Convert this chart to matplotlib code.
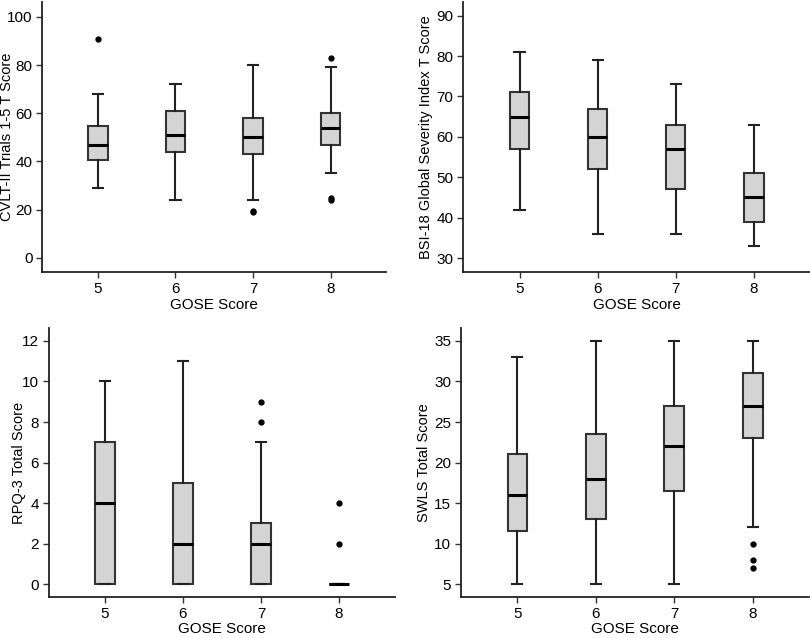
"""Four box plots of outcome scores by GOSE score."""
import matplotlib
matplotlib.use("Agg")
import matplotlib.pyplot as plt

plt.rcParams["font.family"] = ["Liberation Sans", "DejaVu Sans"]

gose = [5, 6, 7, 8]

# CVLT-II Trials 1-5 T Score
cvlt_lo = [29, 24, 24, 35]
cvlt_q1 = [40.5, 44, 43, 47]
cvlt_med = [47, 51, 50, 54]
cvlt_q3 = [54.5, 61, 58, 60]
cvlt_hi = [68, 72, 80, 79]
cvlt_out = [[91], [], [19, 19.4], [83, 24, 25]]

# BSI-18 Global Severity Index T Score
bsi_lo = [42, 36, 36, 33]
bsi_q1 = [57, 52, 47, 39]
bsi_med = [65, 60, 57, 45]
bsi_q3 = [71, 67, 63, 51]
bsi_hi = [81, 79, 73, 63]
bsi_out = [[], [], [], []]

# RPQ-3 Total Score
rpq_lo = [0, 0, 0, 0]
rpq_q1 = [0, 0, 0, 0]
rpq_med = [4, 2, 2, 0]
rpq_q3 = [7, 5, 3, 0]
rpq_hi = [10, 11, 7, 0]
rpq_out = [[], [], [8, 9], [2, 4]]

# SWLS Total Score
swls_lo = [5, 5, 5, 12]
swls_q1 = [11.5, 13, 16.5, 23]
swls_med = [16, 18, 22, 27]
swls_q3 = [21, 23.5, 27, 31]
swls_hi = [33, 35, 35, 35]
swls_out = [[], [], [], [10, 8, 7]]


def stats(lo, q1, med, q3, hi, out):
    return [dict(whislo=a, q1=b, med=c, q3=d, whishi=e, fliers=f)
            for a, b, c, d, e, f in zip(lo, q1, med, q3, hi, out)]


panels = [
    # (rect, stats, ylabel, ylim, yticks, xlabel pad, ylabel right edge in fig fraction)
    ([0.052, 0.574, 0.425, 0.423],
     stats(cvlt_lo, cvlt_q1, cvlt_med, cvlt_q3, cvlt_hi, cvlt_out),
     "CVLT-II Trials 1-5 T Score", (-5.8, 106.2), range(0, 101, 20), 2, 0.017),
    ([0.572, 0.574, 0.428, 0.423],
     stats(bsi_lo, bsi_q1, bsi_med, bsi_q3, bsi_hi, bsi_out),
     "BSI-18 Global Severity Index T Score", (26.6, 93.4), range(30, 91, 10), 2, 0.534),
    ([0.060, 0.064, 0.428, 0.422],
     stats(rpq_lo, rpq_q1, rpq_med, rpq_q3, rpq_hi, rpq_out),
     "RPQ-3 Total Score", (-0.64, 12.64), range(0, 13, 2), 1, 0.032),
    ([0.569, 0.064, 0.430, 0.422],
     stats(swls_lo, swls_q1, swls_med, swls_q3, swls_hi, swls_out),
     "SWLS Total Score", (3.4, 36.6), range(5, 36, 5), 1, 0.532),
]

fig = plt.figure(figsize=(8.1, 6.38), dpi=100)

for rect, st, ylabel, ylim, yticks, xpad, ylab_x in panels:
    ax = fig.add_axes(rect)
    ax.bxp(st, positions=gose, widths=0.25, capwidths=0.13,
           patch_artist=True, showfliers=True,
           boxprops=dict(facecolor="#d4d4d4", edgecolor="#333333", linewidth=1.5),
           medianprops=dict(color="black", linewidth=2.2),
           whiskerprops=dict(color="#222222", linewidth=1.5),
           capprops=dict(color="#222222", linewidth=1.5),
           flierprops=dict(marker="o", markerfacecolor="black",
                           markeredgecolor="black", markersize=3.5))
    ax.set_xlim(4.28, 8.72)
    ax.set_ylim(*ylim)
    ax.set_yticks(list(yticks))
    ax.set_xticks(gose)
    ax.set_xticklabels([str(g) for g in gose])
    ax.set_xlabel("GOSE Score", fontsize=11, labelpad=xpad)
    ax.set_ylabel(ylabel, fontsize=10.5)
    ax.yaxis.set_label_coords(ylab_x, rect[1] + rect[3] / 2, transform=fig.transFigure)
    ax.tick_params(labelsize=11, length=4, width=1, color="#333333", pad=3)
    for side in ("top", "right"):
        ax.spines[side].set_visible(False)
    for side in ("left", "bottom"):
        ax.spines[side].set_linewidth(1.3)
        ax.spines[side].set_color("#222222")

fig.savefig("out.png", dpi=100)
